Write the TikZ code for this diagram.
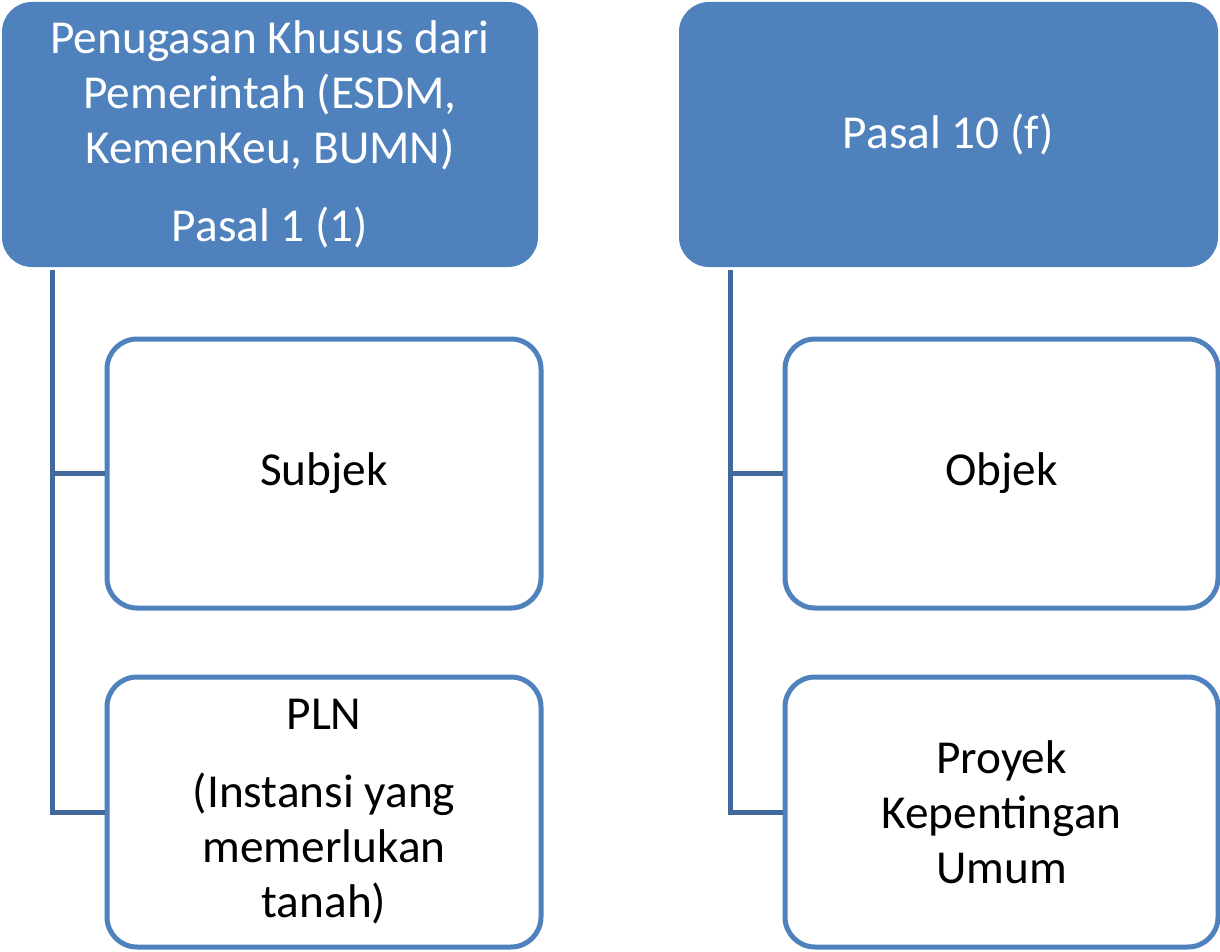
\documentclass[tikz,border=0pt]{standalone}
\usepackage{fontspec}
\setmainfont{Carlito}
\definecolor{boxblue}{HTML}{4F81BD}
\definecolor{connblue}{HTML}{41699C}
\begin{document}
\begin{tikzpicture}[x=1pt,y=-1pt,
  topbox/.style={fill=boxblue,draw=none,rounded corners=30pt,text=white,align=center,
    font=\fontsize{47.3}{55}\selectfont,inner sep=0pt},
  childbox/.style={fill=white,draw=boxblue,line width=5pt,rounded corners=30pt,text=black,align=center,
    font=\fontsize{47.3}{55}\selectfont,inner sep=0pt},
  conn/.style={draw=connblue,line width=5pt}]
\useasboundingbox (0,0) rectangle (1220,952);
\fill[white] (0,0) rectangle (1220,952);
\node[topbox,minimum width=536pt,minimum height=265pt] (t1) at (270,134.5)
  {Penugasan Khusus dari\\Pemerintah (ESDM,\\KemenKeu, BUMN)\\[23pt]Pasal 1 (1)};
\node[topbox,minimum width=539pt,minimum height=265pt] (t2) at (948.5,134.5) {Pasal 10 (f)};
\node[childbox,minimum width=434pt,minimum height=269pt] (sub) at (324,473.5) {Subjek};
\node[childbox,minimum width=434pt,minimum height=270pt] (pln) at (324,812)
  {PLN\\[23pt](Instansi yang\\memerlukan\\tanah)};
\node[childbox,minimum width=433pt,minimum height=269pt] (obj) at (1001.5,473.5) {Objek};
\node[childbox,minimum width=433pt,minimum height=270pt] (pro) at (1001.5,812)
  {Proyek\\Kepentingan\\Umum};
\coordinate (c1) at ([xshift=51pt,yshift=-3pt]t1.south west);
\coordinate (c2) at ([xshift=52pt,yshift=-3pt]t2.south west);
\draw[conn] (c1) |- (sub.west);
\draw[conn] (c1) |- (pln.west);
\draw[conn] (c2) |- (obj.west);
\draw[conn] (c2) |- (pro.west);
\end{tikzpicture}
\end{document}
